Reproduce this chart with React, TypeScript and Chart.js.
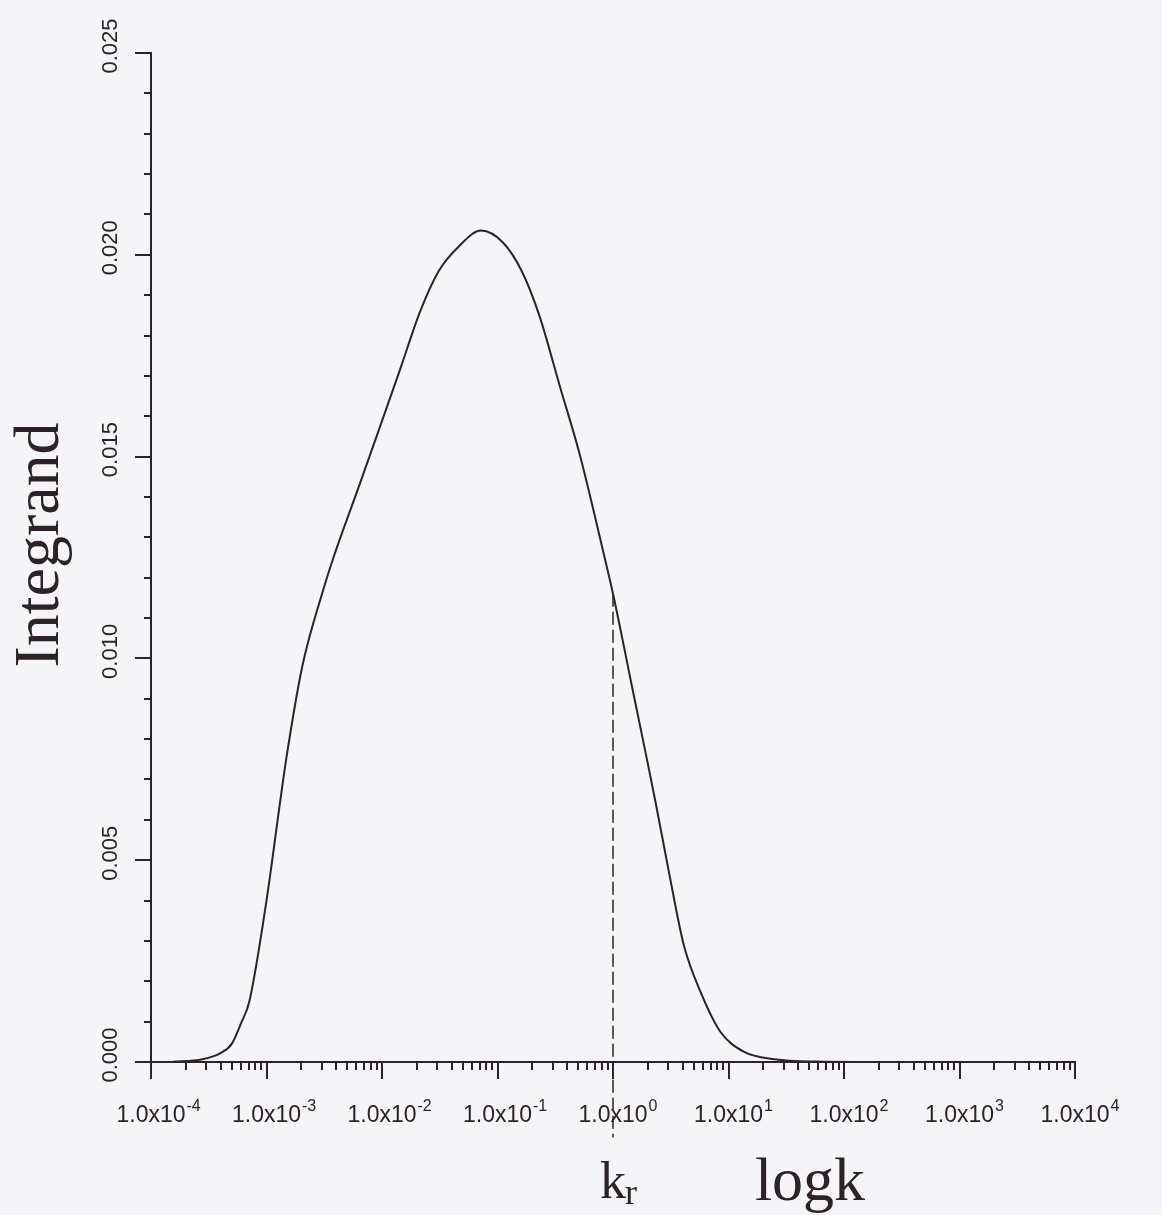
import React, { useEffect, useRef } from "react";
import { Chart, registerables } from "chart.js";

Chart.register(...registerables);

// wavenumber k and the integrand evaluated at k
const K_VALUES = [
  1.5e-4, 2.8e-4, 4.0e-4, 5.0e-4, 6.0e-4, 7.1e-4, 1.0e-3, 1.32e-3, 1.48e-3,
  2.04e-3, 3.1e-3, 3.8e-3, 6.2e-3, 9.5e-3, 1.45e-2, 2.14e-2, 3.1e-2, 4.6e-2,
  7.2e-2, 1.12e-1, 1.62e-1, 2.3e-1, 3.5e-1, 5.1e-1, 8.3e-1, 1.0, 1.51, 2.0,
  2.35, 3.1, 4.1, 5.8, 8.5, 13.5, 25, 58, 160,
];
const INTEGRAND = [
  0.0, 0.00007, 0.00022, 0.00045, 0.00095, 0.0015, 0.004, 0.0065, 0.0075,
  0.0098, 0.0117, 0.0125, 0.0142, 0.0157, 0.0172, 0.0186, 0.0196, 0.0202,
  0.0206, 0.0203, 0.0196, 0.0185, 0.0167, 0.0151, 0.0126, 0.0116, 0.0091,
  0.0074, 0.0064, 0.0046, 0.0029, 0.0017, 0.00075, 0.00026, 0.00007, 0.00001,
  0.0,
];

// marked wavenumber k_r
const K_R = 1.0;
const K_R_DROP = -0.00187; // how far the marker runs below the axis

// axes
const X_MIN = 1e-4;
const X_MAX = 1e4;
const X_DECADES = [-4, -3, -2, -1, 0, 1, 2, 3, 4];
const Y_MIN = 0;
const Y_MAX = 0.025;
const Y_MAJOR_TICKS = [0, 0.005, 0.01, 0.015, 0.02, 0.025];
const Y_TICK_LABELS = ["0.000", "0.005", "0.010", "0.015", "0.020", "0.025"];
const Y_MINOR_STEP_COUNT = 25;

const X_TITLE = "logk";
const Y_TITLE = "Integrand";

const INK = "#2b2327";
const PAPER = "#f5f4f6";
const SANS = '"Liberation Sans", Arial, Helvetica, sans-serif';
const SERIF = '"Liberation Serif", "Times New Roman", Times, serif';

const W = 1162;
const H = 1215;
const PLOT_LEFT = 151;
const PLOT_RIGHT = 1075;
const PLOT_TOP = 53;
const PLOT_BOTTOM = 1062;

const krIndex = K_VALUES.indexOf(K_R);
const krValue = INTEGRAND[krIndex];

const paperPlugin = {
  id: "paper",
  beforeDraw(chart: any) {
    const { ctx, width, height } = chart;
    ctx.save();
    ctx.fillStyle = PAPER;
    ctx.fillRect(0, 0, width, height);
    ctx.restore();
  },
};

const axisDecorPlugin = {
  id: "axisDecor",
  afterDraw(chart: any) {
    const { ctx } = chart;
    const xs = chart.scales.x;
    const ys = chart.scales.y;
    const y0 = ys.getPixelForValue(0);
    const xL = xs.getPixelForValue(X_MIN);

    ctx.save();
    ctx.strokeStyle = INK;
    ctx.fillStyle = INK;
    ctx.lineWidth = 2;
    ctx.lineCap = "butt";

    // y ticks (outward, to the left)
    for (let i = 0; i <= Y_MINOR_STEP_COUNT; i++) {
      const v = (i * (Y_MAX - Y_MIN)) / Y_MINOR_STEP_COUNT;
      const py = Math.round(ys.getPixelForValue(v));
      const len = i % 5 === 0 ? 16 : 7;
      ctx.beginPath();
      ctx.moveTo(xL - len, py);
      ctx.lineTo(xL, py);
      ctx.stroke();
    }

    // x ticks (outward, downward)
    X_DECADES.forEach((d, idx) => {
      const base = Math.pow(10, d);
      const px = Math.round(xs.getPixelForValue(base));
      ctx.beginPath();
      ctx.moveTo(px, y0);
      ctx.lineTo(px, y0 + 17);
      ctx.stroke();
      if (idx < X_DECADES.length - 1) {
        for (let m = 2; m <= 9; m++) {
          const mx = Math.round(xs.getPixelForValue(m * base));
          ctx.beginPath();
          ctx.moveTo(mx, y0);
          ctx.lineTo(mx, y0 + 8);
          ctx.stroke();
        }
      }
    });

    // y tick labels, rotated
    ctx.font = `22px ${SANS}`;
    ctx.textAlign = "center";
    ctx.textBaseline = "alphabetic";
    Y_MAJOR_TICKS.forEach((v, i) => {
      const py = ys.getPixelForValue(v);
      ctx.save();
      ctx.translate(117, py - 7);
      ctx.rotate(-Math.PI / 2);
      ctx.fillText(Y_TICK_LABELS[i], 0, 0);
      ctx.restore();
    });

    // x tick labels: 1.0x10 with a superscript exponent
    X_DECADES.forEach((d) => {
      const px = xs.getPixelForValue(Math.pow(10, d));
      ctx.font = `23px ${SANS}`;
      ctx.textAlign = "center";
      const baseText = "1.0x10";
      const bw = ctx.measureText(baseText).width;
      ctx.fillText(baseText, px, 1122);
      ctx.font = `16px ${SANS}`;
      ctx.textAlign = "left";
      ctx.fillText(String(d), px + bw / 2 + 1, 1111);
    });

    // axis titles
    ctx.font = `64px ${SERIF}`;
    ctx.textAlign = "center";
    ctx.save();
    ctx.translate(58, 545);
    ctx.rotate(-Math.PI / 2);
    ctx.fillText(Y_TITLE, 0, 0);
    ctx.restore();

    ctx.font = `62px ${SERIF}`;
    ctx.fillText(X_TITLE, 810, 1200);

    // k_r label under its marker
    const kx = xs.getPixelForValue(K_R);
    ctx.font = `52px ${SERIF}`;
    ctx.textAlign = "center";
    ctx.fillText("k", kx, 1198);
    const kw = ctx.measureText("k").width;
    ctx.font = `36px ${SERIF}`;
    ctx.textAlign = "left";
    ctx.fillText("r", kx + kw / 2 - 1, 1204);

    ctx.restore();
  },
};

export default function App() {
  const canvasRef = useRef<HTMLCanvasElement | null>(null);

  useEffect(() => {
    document.body.style.margin = "0";
    document.body.style.background = PAPER;
    const canvas = canvasRef.current;
    if (!canvas) return;

    const curve = K_VALUES.map((k, i) => ({ x: k, y: INTEGRAND[i] }));
    const marker = [
      { x: K_R, y: krValue },
      { x: K_R, y: K_R_DROP },
    ];

    const chart = new Chart(canvas, {
      type: "line",
      data: {
        datasets: [
          {
            data: curve,
            borderColor: INK,
            borderWidth: 2,
            pointRadius: 0,
            cubicInterpolationMode: "monotone",
            fill: false,
          },
          {
            data: marker,
            borderColor: INK,
            borderWidth: 1.5,
            borderDash: [13, 5],
            pointRadius: 0,
            fill: false,
            clip: false,
          } as any,
        ],
      },
      options: {
        animation: false,
        responsive: false,
        maintainAspectRatio: false,
        layout: {
          padding: { left: 0, top: PLOT_TOP, right: W - PLOT_RIGHT, bottom: 0 },
        },
        plugins: {
          legend: { display: false },
          tooltip: { enabled: false },
        },
        scales: {
          x: {
            type: "logarithmic",
            min: X_MIN,
            max: X_MAX,
            grid: { display: false },
            ticks: { display: false },
            border: { display: true, color: INK, width: 2 },
            afterFit: (s: any) => {
              s.height = H - PLOT_BOTTOM;
            },
          },
          y: {
            type: "linear",
            min: Y_MIN,
            max: Y_MAX,
            grid: { display: false },
            ticks: { display: false },
            border: { display: true, color: INK, width: 2 },
            afterFit: (s: any) => {
              s.width = PLOT_LEFT;
            },
          },
        },
      },
      plugins: [paperPlugin, axisDecorPlugin],
    });

    return () => chart.destroy();
  }, []);

  return (
    <div style={{ position: "absolute", left: 0, top: 0, width: W, height: H }}>
      <canvas ref={canvasRef} width={W} height={H} style={{ display: "block" }} />
    </div>
  );
}
